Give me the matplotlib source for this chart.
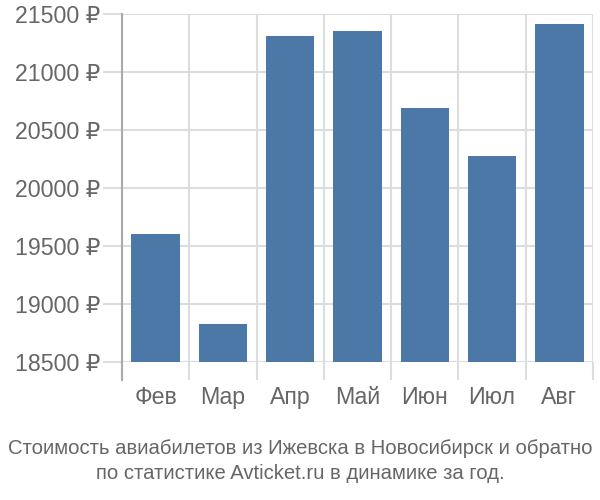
import matplotlib.pyplot as plt
from matplotlib import font_manager
import numpy as np

months = ['Фев', 'Мар', 'Апр', 'Май', 'Июн', 'Июл', 'Авг']
prices = [19605, 18825, 21310, 21350, 20690, 20275, 21410]
yticks = [18500, 19000, 19500, 20000, 20500, 21000, 21500]
title = ('Стоимость авиабилетов из Ижевска в Новосибирск и обратно\n'
         'по статистике Avticket.ru в динамике за год.')

names = {f.name for f in font_manager.fontManager.ttflist}
narrow = 'Liberation Sans Narrow' if 'Liberation Sans Narrow' in names else 'Liberation Sans'
plt.rcParams['font.family'] = ['Liberation Sans', 'DejaVu Sans']

text_col = '#666666'
grid_col = '#dddddd'

fig = plt.figure(figsize=(6, 5), dpi=100)
ax = fig.add_axes([122 / 600, 1 - 362 / 500, (593 - 122) / 600, (362 - 14) / 500])

x = np.arange(len(months))
ax.bar(x, np.array(prices) - yticks[0], bottom=yticks[0], width=0.72,
       color='#4c78a8', zorder=3)

ax.set_xlim(-0.5, len(months) - 0.5)
ax.set_ylim(yticks[0], yticks[-1])

ax.set_yticks(yticks)
ax.set_yticklabels([f'{v} ₽' for v in yticks])
ax.set_xticks(x)
ax.set_xticklabels(months)
ax.set_xticks(np.arange(len(months) + 1) - 0.5, minor=True)

ax.tick_params(axis='y', length=13.7, color=grid_col, width=1.5, labelsize=16.7,
               labelcolor=text_col, pad=2)
ax.tick_params(axis='x', which='major', length=0, labelsize=16.7,
               labelcolor=text_col, pad=17)
ax.tick_params(axis='x', which='minor', length=13, color=grid_col, width=1.5)

ax.grid(axis='y', color=grid_col, linewidth=1.5, zorder=0)
ax.grid(axis='x', which='minor', color=grid_col, linewidth=1.5, zorder=0)

for s in ['top', 'right', 'bottom']:
    ax.spines[s].set_visible(False)
ax.spines['left'].set_color('#aaaaaa')
ax.spines['left'].set_linewidth(1.5)
ax.spines['left'].set_bounds(yticks[0] - 155, yticks[-1])
ax.spines['left'].set_zorder(4)

fig.text(0.5, 1 - 461 / 500, title, ha='center', va='center', fontsize=14.6,
         color=text_col, family=[narrow, 'DejaVu Sans'], linespacing=1.4)

fig.savefig('out.png', dpi=100)
